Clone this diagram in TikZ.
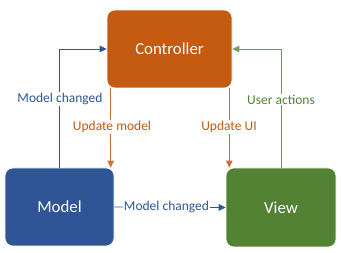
\documentclass[tikz,border=0pt]{standalone}
\usepackage{fontspec}
\setmainfont{Carlito}
\usetikzlibrary{arrows.meta}
\definecolor{ctrlorange}{HTML}{C55A11}
\definecolor{modelblue}{HTML}{2F5597}
\definecolor{viewgreen}{HTML}{548235}
\begin{document}
\begin{tikzpicture}[x=1pt,y=-1pt,
  block/.style={rounded corners=8pt, text=white, font=\fontsize{16.8}{19}\selectfont,
    inner sep=0pt, draw=white, line width=0.6pt},
  flow/.style={line width=0.8pt, -{Triangle[length=7pt,width=6.5pt]}},
  tag/.style={fill=white, inner sep=1pt, font=\fontsize{13.5}{15}\selectfont}]
\useasboundingbox (0,0) rectangle (341,253);

% the three components
\node[block, fill=ctrlorange, minimum width=125pt, minimum height=78pt] (controller) at (169.5,49) {Controller};
\node[block, fill=modelblue, minimum width=109pt, minimum height=78pt] (model) at (59.5,207) {Model};
\node[block, fill=viewgreen, minimum width=110pt, minimum height=79pt] (view) at (281,207.5) {View};

% model notifies the controller
\draw[flow, modelblue] (model.north) |- (controller.west);
\node[tag, text=modelblue] (mc1) at (60,99) {Model changed};

% view forwards user actions
\draw[flow, viewgreen!80] (view.north) |- (controller.east);
\node[tag, text=viewgreen] (ua) at (281,99.5) {User actions};

% controller updates model and view
\coordinate (um0) at ([xshift=4pt]controller.south west);
\coordinate (uu0) at ([xshift=-3pt]controller.south east);
\draw[flow, ctrlorange!85] (um0) -- (um0 |- model.north);
\node[tag, text=ctrlorange] (um) at (112,127) {Update model};
\draw[flow, ctrlorange!85] (uu0) -- (uu0 |- view.north);
\node[tag, text=ctrlorange] (uu) at (229,127) {Update UI};

% model notifies the view
\draw[flow, modelblue] (model.east) -- (view.west);
\node[tag, text=modelblue] (mc2) at (166.5,207) {Model changed};
\end{tikzpicture}
\end{document}
